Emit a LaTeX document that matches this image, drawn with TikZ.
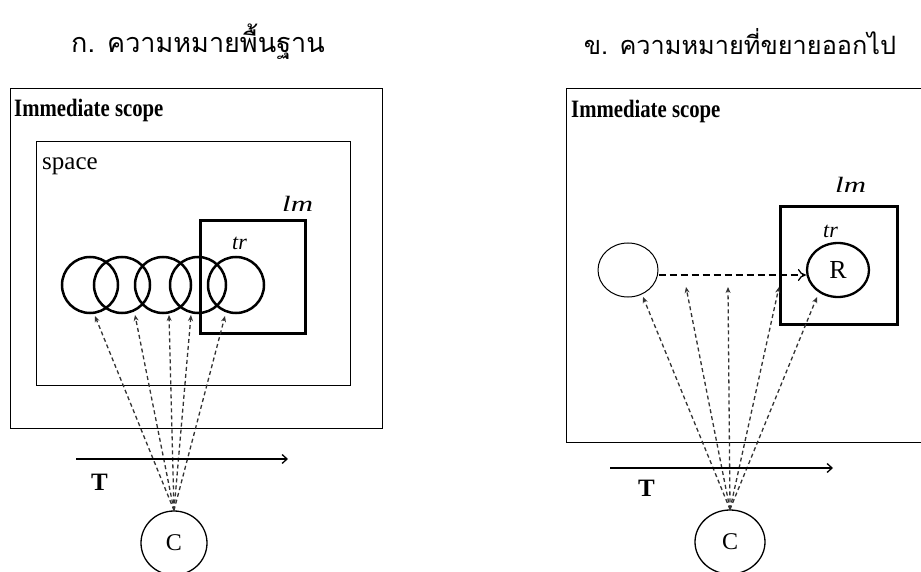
\documentclass[tikz,border=0pt]{standalone}
\usepackage{graphicx}
\usepackage{fontspec}
\setmainfont{Liberation Serif}
\newfontfamily\thaifont[Script=Thai]{Loma}
\usetikzlibrary{arrows.meta,shapes.geometric}
\begin{document}
\begin{tikzpicture}[x=1pt,y=-1pt,
  box/.style={draw, line width=1.3pt, inner sep=0pt, anchor=north west},
  lmbox/.style={draw, line width=2.6pt, inner sep=0pt, anchor=north west},
  ring/.style={draw, circle, line width=2.5pt, minimum size=56pt, inner sep=0pt},
  thinring/.style={draw, ellipse, line width=1pt, minimum width=60pt, minimum height=54pt, inner sep=0pt},
  cnode/.style={draw, ellipse, line width=1.3pt, minimum width=66pt, minimum height=64pt, inner sep=0pt, font=\fontsize{24}{28}\selectfont},
  view/.style={dash pattern=on 4pt off 3pt, line width=1.3pt, draw=black!80, -{Stealth[length=6pt,width=5pt]}},
  title/.style={font=\thaifont\fontsize{27}{32}\selectfont},
  scopelbl/.style={anchor=base west, inner sep=0pt, font=\bfseries\fontsize{25}{28}\selectfont},
  itl/.style={anchor=base west, inner sep=0pt, font=\itshape\fontsize{22}{26}\selectfont},
  tlbl/.style={anchor=base west, inner sep=0pt, font=\bfseries\fontsize{25}{28}\selectfont},
  axis/.style={line width=1.3pt, -{Straight Barb[length=5pt,width=9pt]}}
]
\useasboundingbox (0,0) rectangle (921,572);

% ---------- left panel ----------
\node[title] (titleL) at (198,42) {ก. ความหมายพื้นฐาน};
\node[box, minimum width=372pt, minimum height=340pt] (outerL) at (10,88) {};
\node[scopelbl] (scopeL) at (14,117) {\scalebox{0.83}[1]{Immediate scope}};
\node[box, minimum width=314pt, minimum height=244pt] (spaceL) at (36,141) {};
\node[anchor=base west, inner sep=0pt, font=\fontsize{25}{28}\selectfont] (spacelbl) at (42,170) {space};
\node[lmbox, minimum width=105pt, minimum height=113pt] (lmL) at (199,219) {};
\node[itl] (lmlblL) at (282,212) {\scalebox{1.4}[1]{lm}};
\node[itl] (trlblL) at (232,250) {tr};

\node[ring] (c1) at (90,285) {};
\node[ring] (c2) at (122,285) {};
\node[ring] (c3) at (163,285) {};
\node[ring] (c4) at (198,285) {};
\node[ring] (c5) at (236,285) {};

\node[cnode] (CL) at (174,543) {C};
\coordinate (aL1) at (95,316);
\coordinate (aL2) at (135,315);
\coordinate (aL3) at (169,315);
\coordinate (aL4) at (191,315);
\coordinate (aL5) at (225,316);
\foreach \t in {aL1,aL2,aL3,aL4,aL5}
  \draw[view] (CL.north) -- (\t);

\coordinate (tL1) at (76,459);
\coordinate (tL2) at (288,459);
\draw[axis] (tL1) -- (tL2);
\node[tlbl] (TL) at (91,490) {T};

% ---------- right panel ----------
\node[title, font=\thaifont\fontsize{25.3}{30}\selectfont] (titleR) at (740,42) {ข. ความหมายที่ขยายออกไป};
\node[box, minimum width=365pt, minimum height=354pt] (outerR) at (566,88) {};
\node[scopelbl] (scopeR) at (571,118) {\scalebox{0.83}[1]{Immediate scope}};
\node[lmbox, minimum width=117pt, minimum height=118pt] (lmR) at (779,205) {};
\node[itl] (lmlblR) at (835,193) {\scalebox{1.4}[1]{lm}};
\node[itl] (trlblR) at (823,237) {tr};

\node[thinring] (src) at (628,270) {};
\node[draw, ellipse, line width=2.3pt, minimum width=62pt, minimum height=54pt, inner sep=0pt, font=\fontsize{26}{30}\selectfont] (R) at (838,270) {R};
\draw[dash pattern=on 7pt off 4pt, line width=1.9pt, -{To[length=8pt,width=12pt,line width=1.3pt]}] (src.east |- 0,275) -- (R.west |- 0,275);

\node[cnode, minimum width=70pt] (CR) at (730,542) {C};
\coordinate (aR1) at (643,297);
\coordinate (aR2) at (686,287);
\coordinate (aR3) at (728,287);
\coordinate (aR4) at (779,287);
\coordinate (aR5) at (817,297);
\foreach \t in {aR1,aR2,aR3,aR4,aR5}
  \draw[view] (CR.north) -- (\t);

\coordinate (tR1) at (610,468);
\coordinate (tR2) at (833,468);
\draw[axis] (tR1) -- (tR2);
\node[tlbl] (TR) at (638,496) {T};
\end{tikzpicture}
\end{document}
